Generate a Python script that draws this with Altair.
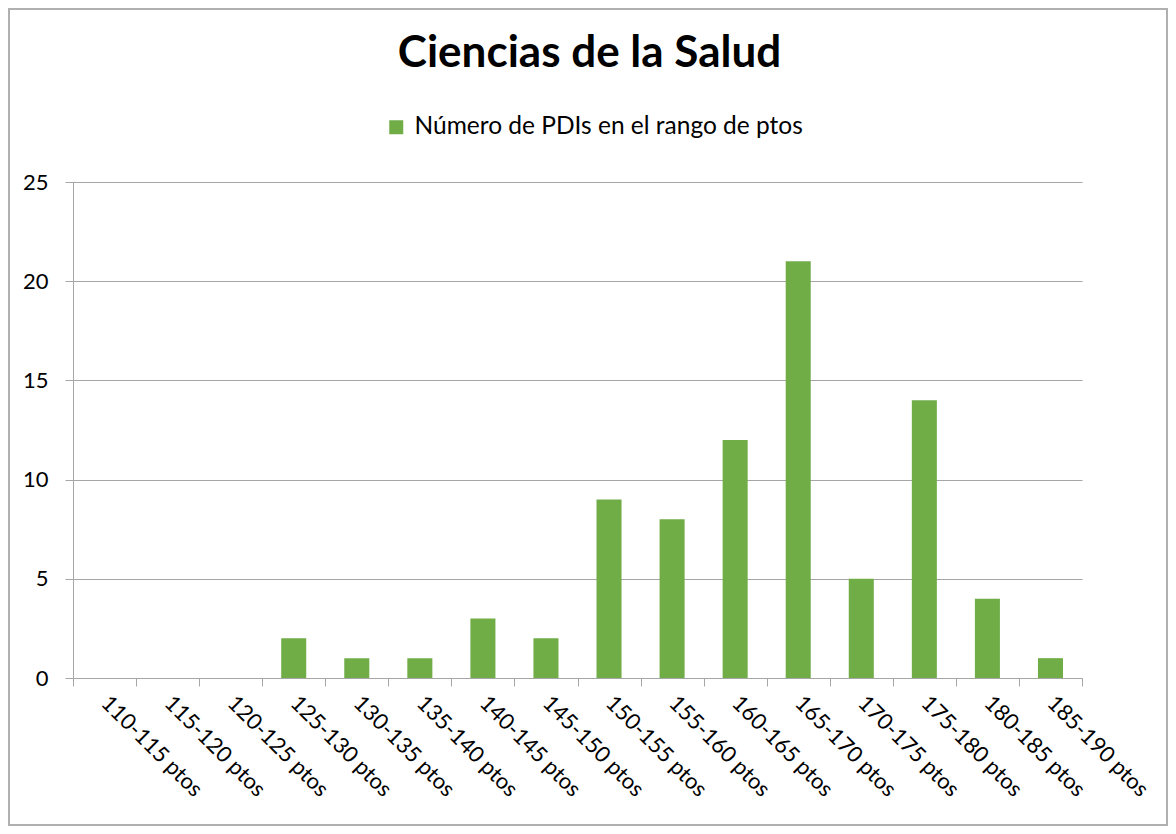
import altair as alt
import pandas as pd

title_text = "Ciencias de la Salud"
categories = ["110-115 ptos", "115-120 ptos", "120-125 ptos", "125-130 ptos",
              "130-135 ptos", "135-140 ptos", "140-145 ptos", "145-150 ptos",
              "150-155 ptos", "155-160 ptos", "160-165 ptos", "165-170 ptos",
              "170-175 ptos", "175-180 ptos", "180-185 ptos", "185-190 ptos"]
values = [0, 0, 0, 2, 1, 1, 3, 2, 9, 8, 12, 21, 5, 14, 4, 1]
series_name = "Número de PDIs en el rango de ptos"
y_ticks = [0, 5, 10, 15, 20, 25]

df = pd.DataFrame({"rango": categories, "n": values, "serie": [series_name] * len(categories)})
df_title = pd.DataFrame({"t": [title_text]})

FONT = "Lato"
GRAY = "#a6a6a6"

bars = alt.Chart(df).mark_bar(color="#70AD47", width=alt.RelativeBandSize(0.397)).encode(
    x=alt.X("rango:N", sort=categories,
            scale=alt.Scale(paddingInner=0, paddingOuter=0),
            axis=alt.Axis(title=None, labelAngle=45, labelAlign="left", labelBaseline="middle",
                          labelFontSize=22, labelFont=FONT, labelColor="#000000",
                          labelPadding=13, tickSize=8, tickColor=GRAY, domainColor=GRAY,
                          tickBand="extent", grid=False, labelOverlap=False)),
    y=alt.Y("n:Q", scale=alt.Scale(domain=[0, 25], nice=False),
            axis=alt.Axis(title=None, values=y_ticks, labelFontSize=22, labelFont=FONT,
                          labelColor="#000000", labelPadding=17, tickSize=8, tickColor=GRAY,
                          domainColor=GRAY, gridColor=GRAY, grid=True)),
    color=alt.Color("serie:N", scale=alt.Scale(range=["#70AD47"]),
                    legend=alt.Legend(title=None, orient="none", legendX=311, legendY=-67,
                                      symbolType="square", symbolSize=196, symbolStrokeWidth=0,
                                      labelFontSize=24.5, labelFont=FONT, labelColor="#000000",
                                      labelOffset=6, labelLimit=600)),
)

title = alt.Chart(df_title).mark_text(
    font=FONT, fontSize=44, fontWeight="bold", color="#000000",
    align="center", baseline="alphabetic"
).encode(text="t:N", x=alt.value(516.5), y=alt.value(-115))

border = alt.Chart(df).mark_rect(fill=None, stroke="#b0b0b0", strokeWidth=1.5).encode(
    x=alt.value(-64.5), x2=alt.value(1094.5), y=alt.value(-173.5), y2=alt.value(643.5)
)

chart = alt.layer(bars, title, border).properties(
    width=1009, height=496,
    autosize=alt.AutoSizeParams(type="none"),
    padding={"left": 65, "top": 174, "right": 86, "bottom": 148},
).configure_view(stroke=None)

chart.save("out.html", embed_options={"renderer": "svg", "actions": False})
